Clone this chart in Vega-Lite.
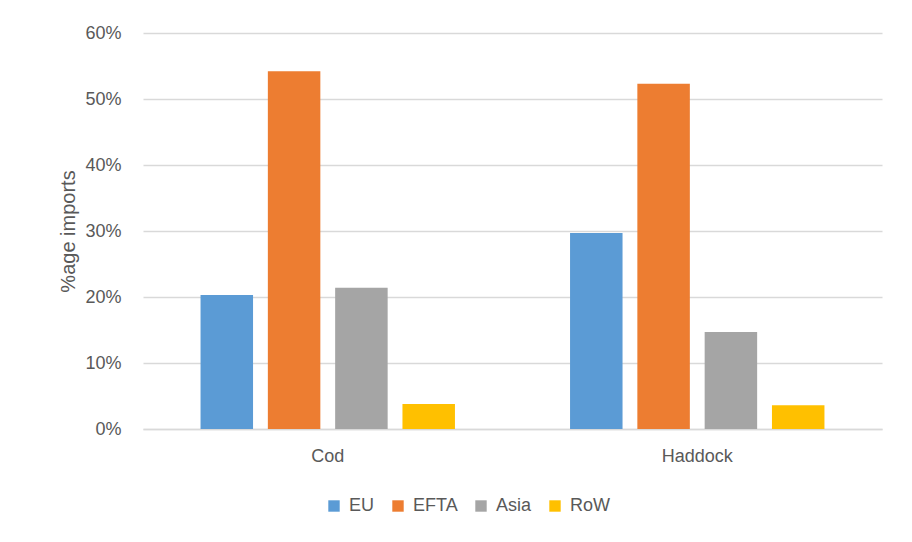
{
  "$schema": "https://vega.github.io/schema/vega-lite/v6.json",
  "width": 739,
  "height": 396,
  "autosize": "none",
  "padding": {"left": 143, "top": 33, "right": 30, "bottom": 113},
  "background": "white",
  "config": {
    "view": {"stroke": null},
    "font": "Liberation Sans"
  },
  "data": {
    "values": [
      {"Fish": "Cod", "Region": "EU", "Share": 0.203},
      {"Fish": "Cod", "Region": "EFTA", "Share": 0.542},
      {"Fish": "Cod", "Region": "Asia", "Share": 0.214},
      {"Fish": "Cod", "Region": "RoW", "Share": 0.038},
      {"Fish": "Haddock", "Region": "EU", "Share": 0.297},
      {"Fish": "Haddock", "Region": "EFTA", "Share": 0.523},
      {"Fish": "Haddock", "Region": "Asia", "Share": 0.147},
      {"Fish": "Haddock", "Region": "RoW", "Share": 0.036}
    ]
  },
  "mark": {"type": "bar"},
  "encoding": {
    "x": {
      "field": "Fish",
      "type": "nominal",
      "sort": ["Cod", "Haddock"],
      "scale": {"paddingInner": 0, "paddingOuter": 0},
      "axis": {
        "title": null,
        "labelAngle": 0,
        "labelFontSize": 18,
        "labelColor": "#595959",
        "labelPadding": 18,
        "ticks": false,
        "domainColor": "#d9d9d9",
        "domainWidth": 1.5
      }
    },
    "xOffset": {
      "field": "Region",
      "type": "nominal",
      "sort": ["EU", "EFTA", "Asia", "RoW"],
      "scale": {"paddingInner": 0.22, "paddingOuter": 0.855}
    },
    "y": {
      "field": "Share",
      "type": "quantitative",
      "scale": {"domain": [0, 0.6]},
      "axis": {
        "title": "%age imports",
        "titleFontSize": 20,
        "titleFontWeight": "normal",
        "titleColor": "#595959",
        "titlePadding": 6,
        "format": ".0%",
        "values": [0, 0.1, 0.2, 0.3, 0.4, 0.5, 0.6],
        "labelFontSize": 18,
        "labelColor": "#595959",
        "labelPadding": 22,
        "ticks": false,
        "domain": false,
        "gridColor": "#d9d9d9",
        "gridWidth": 1.5
      }
    },
    "color": {
      "field": "Region",
      "type": "nominal",
      "sort": ["EU", "EFTA", "Asia", "RoW"],
      "scale": {
        "domain": ["EU", "EFTA", "Asia", "RoW"],
        "range": ["#5b9bd5", "#ed7d31", "#a5a5a5", "#ffc000"]
      },
      "legend": {
        "title": null,
        "orient": "none",
        "direction": "horizontal",
        "legendX": 182,
        "legendY": 464,
        "symbolType": "square",
        "symbolSize": 130,
        "symbolStrokeWidth": 0,
        "labelFontSize": 18,
        "labelColor": "#595959",
        "labelOffset": 6,
        "columnPadding": 14
      }
    }
  }
}
